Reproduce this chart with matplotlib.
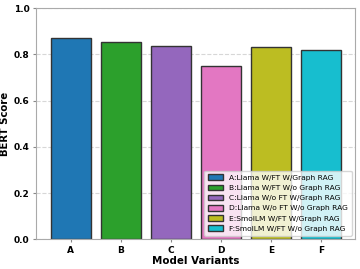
import matplotlib
matplotlib.use("Agg")
import matplotlib.pyplot as plt

categories = ["A", "B", "C", "D", "E", "F"]
labels = ["A:Llama W/FT W/Graph RAG", "B:Llama W/FT W/o Graph RAG",
          "C:Llama W/o FT W/Graph RAG", "D:Llama W/o FT W/o Graph RAG",
          "E:SmolLM W/FT W/Graph RAG", "F:SmolLM W/FT W/o Graph RAG"]
scores = [0.871, 0.853, 0.837, 0.750, 0.833, 0.817]
colors = ["#1f77b4", "#2ca02c", "#9467bd", "#e377c2", "#bcbd22", "#17becf"]

fig = plt.figure(figsize=(3.6, 2.69), dpi=100)
ax = fig.add_axes([0.1, 0.11, 0.887, 0.86])
bars = ax.bar(categories, scores, color=colors, edgecolor="#333333", linewidth=1.0, width=0.8)
for b, l in zip(bars, labels):
    b.set_label(l)
ax.set_ylim(0, 1.0)
ax.yaxis.grid(True, linestyle="--", alpha=0.5)
ax.set_axisbelow(True)
ax.set_ylabel("BERT Score", fontsize=7.3, fontweight="bold", labelpad=3)
ax.set_xlabel("Model Variants", fontsize=7.4, fontweight="bold", labelpad=1)
ax.tick_params(labelsize=6.5, pad=2, length=2.5, color="#888888")
for t in ax.get_xticklabels() + ax.get_yticklabels():
    t.set_fontweight("bold")
for s in ax.spines.values():
    s.set_color("#aaaaaa")
ax.legend(handles=list(bars), loc="lower right", fontsize=5.4, frameon=True, framealpha=0.8,
          handlelength=2.0, handleheight=0.8, labelspacing=0.5, borderpad=0.5)
fig.savefig("out.png", dpi=100)
